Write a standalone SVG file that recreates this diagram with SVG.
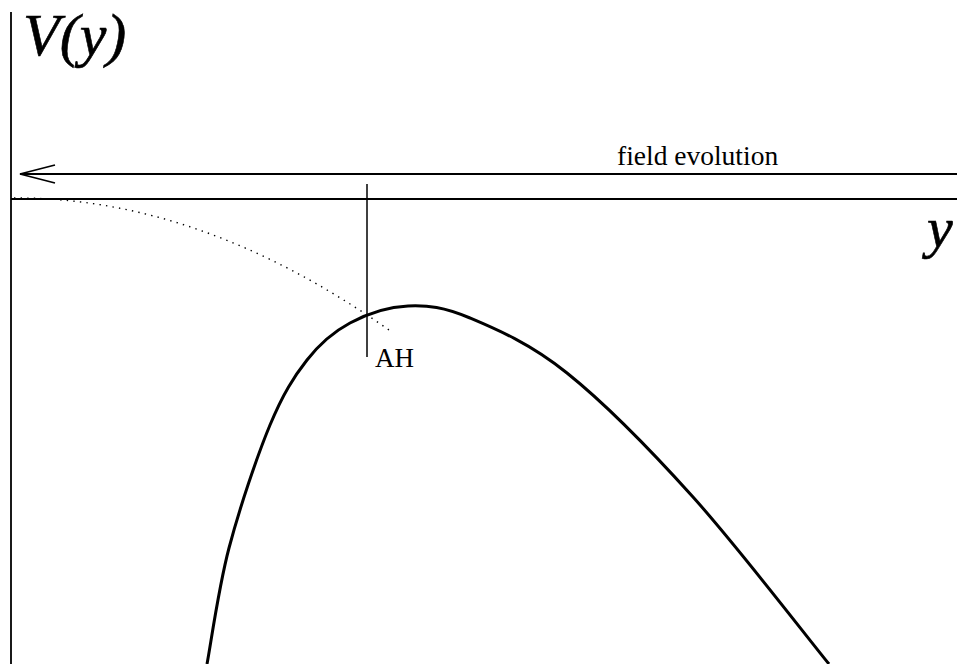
<svg xmlns="http://www.w3.org/2000/svg" width="957" height="664" viewBox="0 0 957 664">
<style>
.ax{stroke:#000;stroke-width:1.8;fill:none}
.thin{stroke:#000;stroke-width:1.5;fill:none}
.curve{stroke:#000;stroke-width:3;fill:none;stroke-linejoin:round}
.dot{stroke:#000;stroke-width:1.4;fill:none;stroke-dasharray:1.4 5.2}
.lbl{font-family:"Liberation Serif","Times New Roman",serif;fill:#000}
.it{font-style:italic}
</style>
<rect width="957" height="664" fill="#fff"/>
<g id="axes">
<line class="ax" x1="11" y1="12" x2="11" y2="664"/>
<line class="ax" x1="11" y1="199" x2="957" y2="199"/>
</g>
<g id="labels">
<text class="lbl it" x="23" y="55" font-size="60" stroke="#000" stroke-width="0.6">V(y)</text>
<text class="lbl it" x="927" y="247" font-size="58" stroke="#000" stroke-width="0.6">y</text>
</g>
<g id="connectors">
<line class="ax" x1="20" y1="174" x2="957" y2="174"/>
<polyline class="ax" points="55,165 20,174 55,183"/>
</g>
<g id="field-evolution">
<text class="lbl" x="617" y="165" font-size="27.5">field evolution</text>
</g>
<g id="potential">
<path class="curve" d="M207,664 C210.7,644.7 218.5,587.8 229,548 C239.5,508.2 257,456.3 270,425 C283,393.7 293.7,377 307,360 C320.3,343 333.2,332 350,323 C366.8,314 388,306.8 408,306 C428,305.2 443.5,306.8 470,318 C496.5,329.2 529.8,343.2 567,373 C604.2,402.8 649.3,448.5 693,497 C736.7,545.5 806.3,636.2 829,664"/>
<path class="dot" d="M14,198 Q200,197 389,330"/>
</g>
<g id="AH">
<line class="thin" x1="367" y1="184" x2="367" y2="357"/>
<text class="lbl" x="375" y="367" font-size="27">AH</text>
</g>
</svg>
